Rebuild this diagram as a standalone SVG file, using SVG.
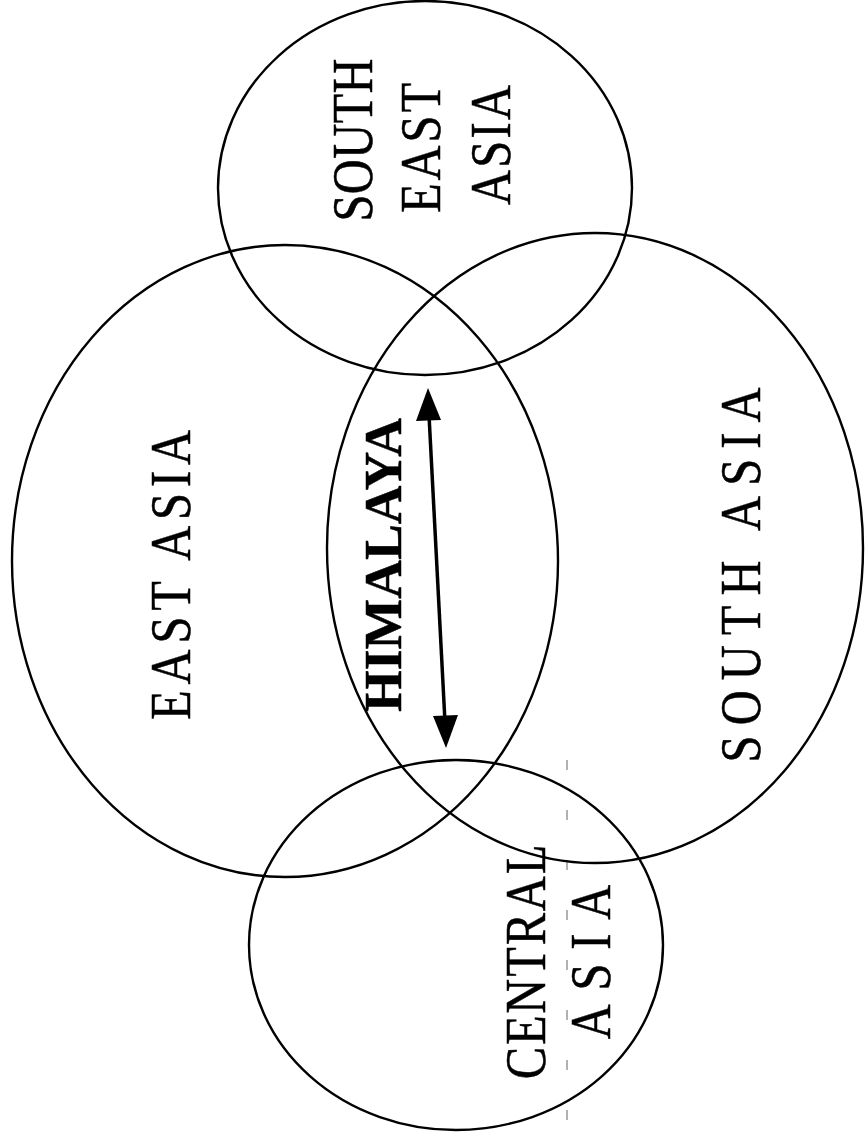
<svg xmlns="http://www.w3.org/2000/svg" width="865" height="1145" viewBox="0 0 865 1145">
<style>
.reg{fill:none;stroke:#000;stroke-width:2.4}
.lbl{font-family:"Liberation Serif","Times New Roman",serif;font-size:57px;fill:#000;stroke:#000;stroke-width:0.5;text-anchor:middle}
.bold{font-weight:bold;font-size:53px;stroke-width:0.5}
.scan{stroke:#999;stroke-width:1.5;stroke-dasharray:10 40}
</style>
<rect width="865" height="1145" fill="#fff"/>
<line class="scan" x1="567" y1="760" x2="567" y2="1140"/>
<g id="southeast-asia">
<ellipse class="reg" cx="425" cy="188" rx="207" ry="187"/>
<text class="lbl" transform="translate(372,140) rotate(-90) scale(0.85,1)" textLength="192" lengthAdjust="spacing">SOUTH</text>
<text class="lbl" transform="translate(440,148) rotate(-90) scale(0.85,1)" textLength="153" lengthAdjust="spacing">EAST</text>
<text class="lbl" transform="translate(510,145) rotate(-90) scale(0.85,1)" textLength="141" lengthAdjust="spacing">ASIA</text>
</g>
<g id="east-asia">
<ellipse class="reg" cx="285" cy="561" rx="273" ry="316"/>
<text class="lbl" transform="translate(190,575) rotate(-90) scale(0.85,1)" textLength="341" lengthAdjust="spacing">EAST ASIA</text>
</g>
<g id="south-asia">
<ellipse class="reg" cx="595" cy="548" rx="268" ry="315"/>
<text class="lbl" transform="translate(760,575) rotate(-90) scale(0.85,1)" textLength="441" lengthAdjust="spacing">SOUTH ASIA</text>
</g>
<g id="central-asia">
<ellipse class="reg" cx="456" cy="945" rx="207" ry="185"/>
<text class="lbl" transform="translate(545,962) rotate(-90) scale(0.85,1)" textLength="276" lengthAdjust="spacing">CENTRAL</text>
<text class="lbl" transform="translate(610,962) rotate(-90) scale(0.85,1)" textLength="182" lengthAdjust="spacing">ASIA</text>
</g>
<g id="himalaya">
<text class="lbl bold" transform="translate(401,565) rotate(-90)" textLength="294" lengthAdjust="spacingAndGlyphs">HIMALAYA</text>
</g>
<g id="connectors">
<line x1="429" y1="415" x2="445" y2="722" stroke="#000" stroke-width="3.5"/>
<path d="M428,388 L416,421 L441,420 Z" fill="#000"/>
<path d="M446,748 L433,716 L458,715 Z" fill="#000"/>
</g>
</svg>
